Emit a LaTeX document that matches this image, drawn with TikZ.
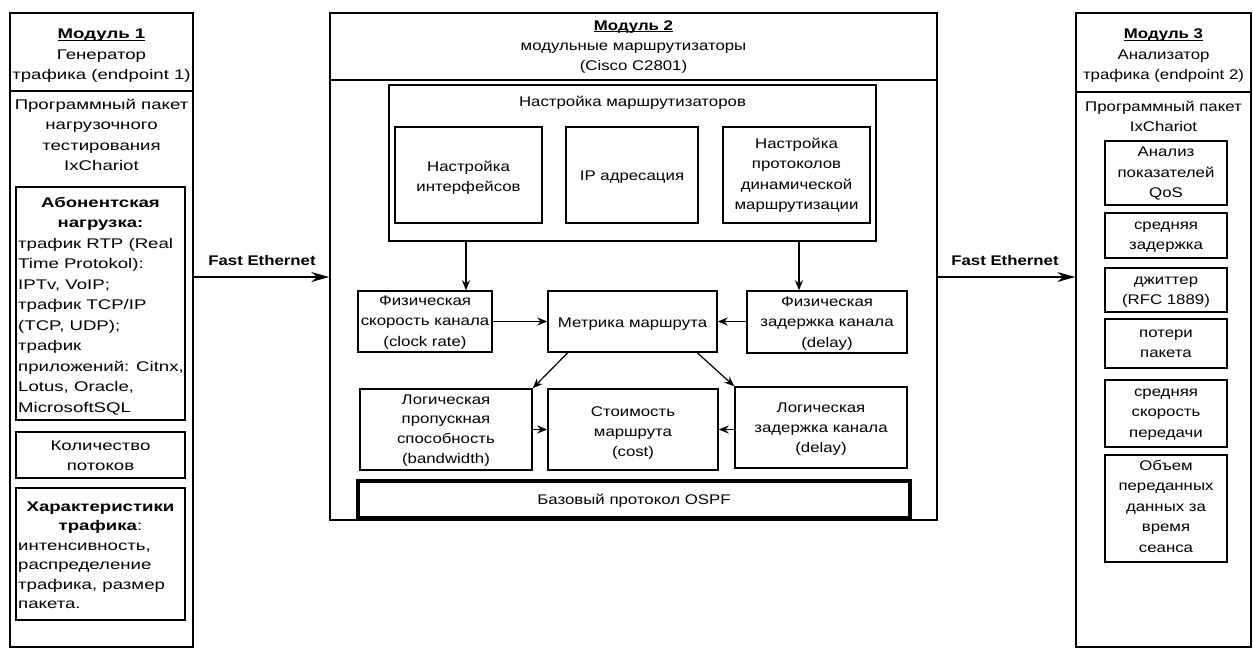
\documentclass[tikz,border=0pt]{standalone}
\usepackage{fontspec}
\setmainfont{Liberation Sans}[FakeStretch=1.2]
\newfontfamily\widefont{Liberation Sans}[FakeStretch=1.33]
\usetikzlibrary{arrows.meta,fit,calc}
\newcommand\tstrut{\rule{0pt}{14pt}}
\newcommand\ttlul[1]{\underline{\raisebox{0pt}[\height][0pt]{#1}}}
\begin{document}
\begin{tikzpicture}[x=1pt,y=-1pt,
  bx/.style={draw, line width=1.5pt, inner sep=0pt},
  tx/.style={inner sep=0pt, align=center, anchor=north, font=\fontsize{14}{20.5}\selectfont},
  tl/.style={inner sep=0pt, align=left, anchor=north west, font=\fontsize{14}{20.5}\selectfont},
  wx/.style={tx, font=\widefont\fontsize{14}{20.5}\selectfont},
  wl/.style={tl, font=\widefont\fontsize{14}{20.5}\selectfont},
  arr/.style={line width=1.2pt, -{Stealth[length=10pt,width=8pt]}},
  fe/.style={line width=1.5pt, -{Stealth[length=18pt,width=10pt]}}]
\useasboundingbox (0,0) rectangle (1253,649);

% ---------- Module 1
\node[bx, fit={(10,13) (193,647)}] (m1) {};
\node[bx, fit={(10,13) (193,91)}] (m1h) {};
\node[wx] (m1t) at (101.5,24.5) {\tstrut\ttlul{\textbf{Модуль 1}}\\Генератор\\трафика (endpoint 1)};
\node[wx] (m1b) at (101.5,95) {\tstrut Программный пакет\\нагрузочного\\тестирования\\IxChariot};
\node[bx, fit={(16,187) (185,420)}] (ab) {};
\node[wx] (abh) at (100.5,193) {\tstrut\textbf{Абонентская}\\\textbf{нагрузка:}};
\node[wl] (abb) at (18,234) {\tstrut трафик RTP (Real\\Time Protokol):\\IPTv, VoIP;\\трафик TCP/IP\\(TCP, UDP);\\трафик\\приложений: Citnx,\\Lotus, Oracle,\\MicrosoftSQL};
\node[bx, fit={(16,432) (185,478)}] (kol) {};
\node[wx] (kolt) at (100.5,436) {\tstrut Количество\\потоков};
\node[bx, fit={(16,488) (185,620)}] (har) {};
\node[wx, font=\widefont\fontsize{14}{19.5}\selectfont] (harh) at (100.5,497) {\tstrut\textbf{Характеристики}\\\textbf{трафика}:};
\node[wl, font=\widefont\fontsize{14}{19.5}\selectfont] (harb) at (18,536) {\tstrut интенсивность,\\распределение\\трафика, размер\\пакета.};

% ---------- Module 2
\node[bx, fit={(330,13) (937,520)}] (m2) {};
\node[bx, fit={(330,13) (937,80)}] (m2h) {};
\node[tx, font=\fontsize{14}{20}\selectfont] (m2t) at (633.5,16) {\tstrut\ttlul{\textbf{Модуль 2}}\\модульные маршрутизаторы\\(Cisco C2801)};
\node[bx, fit={(389,85) (876,241)}] (nm) {};
\node[tx] (nmt) at (632.5,92) {\tstrut Настройка маршрутизаторов};
\node[bx, fit={(395,127) (542,223)}] (ni) {};
\node[tx] (nit) at (468.5,157) {\tstrut Настройка\\интерфейсов};
\node[bx, fit={(566,127) (698,223)}] (ip) {};
\node[tx] (ipt) at (632,166) {\tstrut IP адресация};
\node[bx, fit={(723,127) (870,223)}] (np) {};
\node[tx] (npt) at (796.5,134) {\tstrut Настройка\\протоколов\\динамической\\маршрутизации};

\node[bx, fit={(358,291) (492,352)}] (fs) {};
\node[tx] (fst) at (425,291) {\tstrut Физическая\\скорость канала\\(clock rate)};
\node[bx, fit={(548,291) (717,352)}] (mt) {};
\node[tx] (mtt) at (632.5,313) {\tstrut Метрика маршрута};
\node[bx, fit={(747,291) (907,353)}] (fz) {};
\node[tx] (fzt) at (827,292) {\tstrut Физическая\\задержка канала\\(delay)};

\node[bx, fit={(360,389) (532,470)}] (lb) {};
\node[tx, font=\fontsize{14}{19.7}\selectfont] (lbt) at (446,390) {\tstrut Логическая\\пропускная\\способность\\(bandwidth)};
\node[bx, fit={(548,389) (718,470)}] (st) {};
\node[tx, font=\fontsize{14}{20}\selectfont] (stt) at (633,402) {\tstrut Стоимость\\маршрута\\(cost)};
\node[bx, fit={(735,387) (907,468)}] (lz) {};
\node[tx, font=\fontsize{14}{20}\selectfont] (lzt) at (821,398) {\tstrut Логическая\\задержка канала\\(delay)};

\node[draw, line width=4pt, inner sep=0pt, fit={(358,481) (910,518)}] (os) {};
\node[tx] (ost) at (634,490) {\tstrut Базовый протокол OSPF};

\coordinate (xa) at (466,0);
\coordinate (xb) at (799,0);
\draw[arr] (nm.south -| xa) -- (fs.north -| xa);
\draw[arr] (nm.south -| xb) -- (fz.north -| xb);
\draw[arr] (fs.east) -- (mt.west);
\draw[arr] (fz.west |- mt.east) -- (mt.east);
\draw[arr] (lb.east) -- (st.west);
\draw[arr] (lz.west |- st.east) -- (st.east);
\draw[arr] ($(mt.south west)!0.12!(mt.south east)$) -- (lb.north east);
\draw[arr] ($(mt.south west)!0.88!(mt.south east)$) -- (lz.north west);

% ---------- Module 3
\node[bx, fit={(1076,13) (1251,647)}] (m3) {};
\node[bx, fit={(1076,13) (1251,92)}] (m3h) {};
\node[tx] (m3t) at (1163.5,24.5) {\tstrut\ttlul{\textbf{Модуль 3}}\\Анализатор\\трафика (endpoint 2)};
\node[tx] (m3b) at (1163.5,97) {\tstrut Программный пакет\\IxChariot};
\node[bx, fit={(1105,141) (1227,205)}] (q1) {};
\node[tx] (q1t) at (1166,142.5) {\tstrut Анализ\\показателей\\QoS};
\node[bx, fit={(1105,213) (1227,258)}] (q2) {};
\node[tx] (q2t) at (1166,215) {\tstrut средняя\\задержка};
\node[bx, fit={(1105,268) (1227,312)}] (q3) {};
\node[tx] (q3t) at (1166,270) {\tstrut джиттер\\(RFC 1889)};
\node[bx, fit={(1105,319) (1227,368)}] (q4) {};
\node[tx] (q4t) at (1166,323) {\tstrut потери\\пакета};
\node[bx, fit={(1105,380) (1227,447)}] (q5) {};
\node[tx] (q5t) at (1166,382) {\tstrut средняя\\скорость\\передачи};
\node[bx, fit={(1105,455) (1227,562)}] (q6) {};
\node[tx] (q6t) at (1166,456) {\tstrut Объем\\переданных\\данных за\\время\\сеанса};

% ---------- Fast Ethernet links
\coordinate (fy) at (0,277);
\draw[fe] (m1.east |- fy) -- (m2.west |- fy);
\draw[fe] (m2.east |- fy) -- (m3.west |- fy);
\node[inner sep=0pt, anchor=base, font=\fontsize{14}{17}\selectfont\bfseries] (fel) at (262,265) {Fast Ethernet};
\node[inner sep=0pt, anchor=base, font=\fontsize{14}{17}\selectfont\bfseries] (fer) at (1005,265) {Fast Ethernet};
\end{tikzpicture}
\end{document}
